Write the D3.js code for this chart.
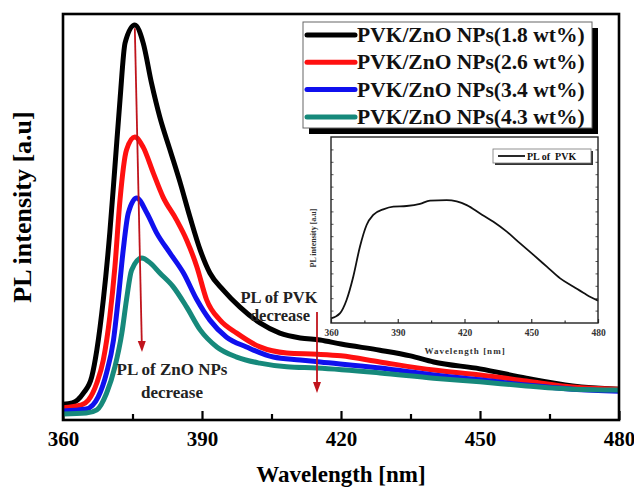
<!DOCTYPE html>
<html>
<head>
<meta charset="utf-8">
<script src="https://cdn.jsdelivr.net/npm/d3@7"></script>
<style>
  body { margin: 0; background: #fff; }
  text { font-family: "Liberation Serif", "Times New Roman", serif; font-weight: bold; }
</style>
</head>
<body>
<svg id="chart"></svg>
<script>
// main spectra (intensity in a.u., top of frame = 1000)
const wl18 = [360, 362, 364.4, 366.2, 367.3, 368.7, 370.1, 371.2, 372.3, 373.4, 375.5, 377.3, 379.1, 380.9, 383.1, 385.3, 387.4, 389.6, 391.7, 394.6, 398.2, 402.5, 406.8, 411.2, 415.5, 420, 428.4, 435, 440, 450, 460, 470, 480];
const pl18 = [39, 42, 66, 106, 172, 296, 461, 623, 788, 929, 973, 929, 830, 746, 665, 584, 500, 419, 362, 320, 278, 239, 214, 202, 197, 187, 172, 158, 143, 126, 103, 84, 76];

const wl26 = [360, 364, 365.5, 367.3, 368.7, 370.1, 371.2, 372.3, 373.7, 375.5, 377.3, 379.5, 381.6, 384.5, 386.7, 388.9, 391, 393.9, 397.5, 402.5, 408.3, 414.8, 420, 428.4, 440, 450, 460, 470, 480];
const pl26 = [30, 37, 49, 91, 148, 254, 377, 542, 665, 697, 672, 608, 549, 493, 443, 377, 296, 246, 214, 180, 165, 162, 158, 143, 123, 111, 96, 81, 76];

const wl34 = [360, 365, 367.6, 369.4, 370.9, 371.9, 373, 374.1, 375.9, 378.1, 380.2, 383.1, 386, 388.9, 391.7, 395.3, 399.6, 405.4, 411.2, 415.5, 428.4, 440, 450, 460, 470, 480];
const pl34 = [22, 27, 57, 116, 197, 296, 419, 510, 547, 510, 461, 411, 362, 296, 246, 204, 180, 155, 148, 143, 128, 111, 99, 86, 76, 71];

const wl43 = [360, 365, 367.3, 369.4, 371.2, 372.7, 373.7, 374.8, 377, 378.8, 380.9, 383.8, 386.7, 389.6, 393.2, 397.5, 402.5, 408.3, 414.8, 428.4, 440, 450, 460, 470, 480];
const pl43 = [15, 17, 25, 66, 131, 214, 296, 369, 399, 387, 362, 328, 278, 222, 180, 155, 140, 131, 128, 116, 103, 94, 84, 76, 74];

const seriesNames = ["PVK/ZnO NPs(1.8 wt%)", "PVK/ZnO NPs(2.6 wt%)", "PVK/ZnO NPs(3.4 wt%)", "PVK/ZnO NPs(4.3 wt%)"];
const seriesColors = ["#000000", "#ff1010", "#1010ee", "#16897b"];

// inset: PL of PVK (normalised)
const wlPvk = [360, 364, 367, 370, 373, 376, 379, 383.5, 388, 394, 400, 404.5, 412, 416.5, 421, 427, 433, 439, 445, 451, 457, 463, 469, 475, 480];
const plPvk = [0.025, 0.052, 0.124, 0.249, 0.41, 0.527, 0.581, 0.611, 0.626, 0.629, 0.64, 0.658, 0.661, 0.654, 0.634, 0.589, 0.544, 0.491, 0.428, 0.366, 0.303, 0.24, 0.195, 0.151, 0.12];

const xTicks = [360, 390, 420, 450, 480];
const xMinor = [375, 405, 435, 465];

const W = 634, H = 488;
const svg = d3.select("#chart").attr("width", W).attr("height", H);

const x = d3.scaleLinear().domain([360, 480]).range([63, 619]);
const y = d3.scaleLinear().domain([0, 1000]).range([420, 14]);

// x axis, ticks pointing inward
const xAxis = svg.append("g").attr("transform", "translate(0,420)")
  .call(d3.axisBottom(x).tickValues(xTicks).tickSize(-9).tickPadding(11).tickFormat(d3.format("d")));
xAxis.select(".domain").remove();
xAxis.selectAll("line").attr("stroke", "#000").attr("stroke-width", 2.2);
xAxis.selectAll("text").attr("font-size", 21).attr("fill", "#000")
  .style("font-family", "Liberation Serif, serif").style("font-weight", "bold");

const xAxisMinor = svg.append("g").attr("transform", "translate(0,420)")
  .call(d3.axisBottom(x).tickValues(xMinor).tickSize(-6).tickFormat(""));
xAxisMinor.select(".domain").remove();
xAxisMinor.selectAll("line").attr("stroke", "#000").attr("stroke-width", 2.2);

const line = d3.line().x(d => x(d[0])).y(d => y(d[1])).curve(d3.curveMonotoneX);

const series = [[wl18, pl18], [wl26, pl26], [wl34, pl34], [wl43, pl43]];
series.forEach((s, i) => {
  const pts = s[0].map((w, j) => [w, s[1][j]]);
  svg.append("path")
    .attr("d", line(pts))
    .attr("fill", "none")
    .attr("stroke", seriesColors[i])
    .attr("stroke-width", 5)
    .attr("stroke-linejoin", "round");
});

// frame
svg.append("rect")
  .attr("x", x(360)).attr("y", y(1000))
  .attr("width", x(480) - x(360)).attr("height", y(0) - y(1000))
  .attr("fill", "none").attr("stroke", "#000").attr("stroke-width", 2.6);

// axis titles
svg.append("text").attr("x", 341).attr("y", 482).attr("text-anchor", "middle")
  .attr("font-size", 23).text("Wavelength [nm]");
svg.append("text").attr("transform", "translate(31,207) rotate(-90)").attr("text-anchor", "middle")
  .attr("font-size", 26).text("PL intensity [a.u]");

// red arrows
const arrowColor = "#c0141c";
function arrow(x1, y1, x2, y2) {
  const a = Math.atan2(y2 - y1, x2 - x1);
  const len = 11, half = 4;
  const bx = x2 - len * Math.cos(a), by = y2 - len * Math.sin(a);
  svg.append("line").attr("x1", x1).attr("y1", y1).attr("x2", bx).attr("y2", by)
    .attr("stroke", arrowColor).attr("stroke-width", 1.8);
  const p = [[x2, y2],
    [bx + half * Math.sin(a), by - half * Math.cos(a)],
    [bx - half * Math.sin(a), by + half * Math.cos(a)]];
  svg.append("path").attr("d", "M" + p.join("L") + "Z").attr("fill", arrowColor);
}
arrow(x(375.5), y(965), 142, 352);
arrow(317, 312, 317, 393);

svg.append("text").attr("x", 172).attr("y", 375).attr("text-anchor", "middle").attr("font-size", 17)
  .attr("fill", "#222").text("PL of ZnO NPs");
svg.append("text").attr("x", 172).attr("y", 398).attr("text-anchor", "middle").attr("font-size", 17)
  .attr("fill", "#222").text("decrease");
svg.append("text").attr("x", 279).attr("y", 303).attr("text-anchor", "middle").attr("font-size", 16.5)
  .attr("fill", "#222").text("PL of PVK");
svg.append("text").attr("x", 280).attr("y", 321).attr("text-anchor", "middle").attr("font-size", 16.5)
  .attr("fill", "#222").text("decrease");

// legend with drop shadow
const lg = svg.append("g");
lg.append("rect").attr("x", 309).attr("y", 28).attr("width", 289).attr("height", 106).attr("fill", "#000");
lg.append("rect").attr("x", 303).attr("y", 22).attr("width", 289).attr("height", 106)
  .attr("fill", "#fff").attr("stroke", "#666").attr("stroke-width", 1);
seriesNames.forEach((name, i) => {
  const cy = 35 + i * 27.3;
  lg.append("line").attr("x1", 307).attr("x2", 355).attr("y1", cy).attr("y2", cy)
    .attr("stroke", seriesColors[i]).attr("stroke-width", 5).attr("stroke-linecap", "round");
  lg.append("text").attr("x", 357).attr("y", cy + 7).attr("font-size", 21.5).attr("fill", "#111").text(name);
});

// ---- inset ----
const xi = d3.scaleLinear().domain([360, 480]).range([331, 598]);
const yi = d3.scaleLinear().domain([0, 1]).range([323, 137]);
const inset = svg.append("g");
inset.append("rect").attr("x", 331).attr("y", 137).attr("width", 267).attr("height", 186).attr("fill", "#fff");

const ixAxis = inset.append("g").attr("transform", "translate(0,323)")
  .call(d3.axisBottom(xi).tickValues(xTicks).tickSize(-4).tickPadding(6).tickFormat(d3.format("d")));
ixAxis.select(".domain").remove();
ixAxis.selectAll("line").attr("stroke", "#333").attr("stroke-width", 1.2);
ixAxis.selectAll("text").attr("font-size", 9.5).attr("fill", "#333")
  .style("font-family", "Liberation Serif, serif").style("font-weight", "bold");
const ixMinor = inset.append("g").attr("transform", "translate(0,323)")
  .call(d3.axisBottom(xi).tickValues(xMinor).tickSize(-2.5).tickFormat(""));
ixMinor.select(".domain").remove();
ixMinor.selectAll("line").attr("stroke", "#333").attr("stroke-width", 1.2);

// small ticks on the inset's side axes
const yTicksInset = d3.range(1, 15).map(k => k / 15);
inset.append("g").attr("transform", "translate(331,0)")
  .call(d3.axisRight(yi).tickValues(yTicksInset).tickSize(2.5).tickFormat(""))
  .call(g => g.select(".domain").remove())
  .selectAll("line").attr("stroke", "#555");
inset.append("g").attr("transform", "translate(598,0)")
  .call(d3.axisLeft(yi).tickValues(yTicksInset).tickSize(2.5).tickFormat(""))
  .call(g => g.select(".domain").remove())
  .selectAll("line").attr("stroke", "#555");

const iline = d3.line().x(d => xi(d[0])).y(d => yi(d[1])).curve(d3.curveMonotoneX);
inset.append("path")
  .attr("d", iline(wlPvk.map((w, j) => [w, plPvk[j]])))
  .attr("fill", "none").attr("stroke", "#111").attr("stroke-width", 1.8);

inset.append("rect").attr("x", 331).attr("y", 137).attr("width", 267).attr("height", 186)
  .attr("fill", "none").attr("stroke", "#222").attr("stroke-width", 1.4);

inset.append("text").attr("x", 465).attr("y", 354).attr("text-anchor", "middle").attr("font-size", 9)
  .attr("letter-spacing", 1).attr("fill", "#333").text("Wavelength [nm]");
inset.append("text").attr("transform", "translate(316,238) rotate(-90)").attr("text-anchor", "middle")
  .attr("font-size", 8).attr("fill", "#333").text("PL intensity [a.u]");

// inset legend
inset.append("rect").attr("x", 495).attr("y", 151).attr("width", 98).attr("height", 14).attr("fill", "#333");
inset.append("rect").attr("x", 493).attr("y", 149).attr("width", 98).attr("height", 14)
  .attr("fill", "#fff").attr("stroke", "#777").attr("stroke-width", 0.8);
inset.append("line").attr("x1", 498).attr("x2", 525).attr("y1", 156).attr("y2", 156)
  .attr("stroke", "#111").attr("stroke-width", 1.8);
inset.append("text").attr("x", 527).attr("y", 160).attr("font-size", 10).attr("fill", "#111")
  .attr("xml:space", "preserve").text("PL of  PVK");
</script>
</body>
</html>
